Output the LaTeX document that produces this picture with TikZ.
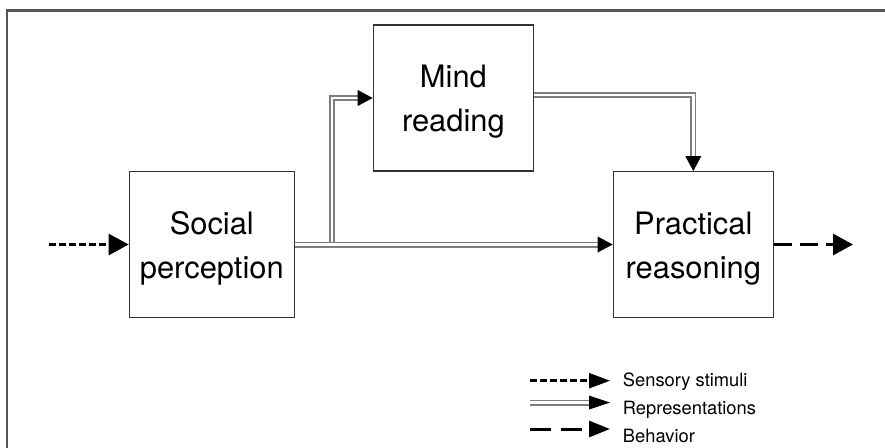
\documentclass[tikz,border=0pt]{standalone}
\usepackage{fontspec}
\setmainfont{TeX Gyre Heros}
\usetikzlibrary{arrows.meta,calc}
\definecolor{framegray}{RGB}{85,85,85}
\definecolor{repgray}{RGB}{125,125,125}
\tikzset{
  stage/.style={draw=black!80, line width=1.2bp, fill=white, inner sep=0pt},
  stagetext/.style={font=\fontsize{31}{44}\selectfont, align=center, inner sep=0pt, yshift=-4bp},
  head/.style={-{Triangle[length=20bp,width=21bp]}},
  sensory/.style={head, line width=2.5bp, dash pattern=on 7bp off 3bp},
  behavior/.style={head, line width=3bp, dash pattern=on 18bp off 8bp},
  rephead/.style={-{Triangle[length=#1,width=16bp,color=black,line width=0bp]}},
  rep/.style={rephead=15bp, draw=repgray,
    line width=1.6bp, double=white, double distance=2.8bp},
  keytext/.style={font=\fontsize{18.4}{20}\selectfont, anchor=base west, inner sep=0pt},
}
\begin{document}
\begin{tikzpicture}
\useasboundingbox (0,0) rectangle (885bp,-448bp);

% outer frame (top and left edges)
\draw[framegray, line width=2.5bp] (7.2bp,-448bp) -- (7.2bp,-10.3bp) -- (885bp,-10.3bp);

% processing stages
\node[stage, minimum width=165bp, minimum height=145.6bp] (sp) at (211.8bp,-244.5bp) {};
\node[stage, minimum width=160.2bp, minimum height=146bp] (mr) at (453.4bp,-98bp) {};
\node[stage, minimum width=160bp, minimum height=145.6bp] (pr) at (693.3bp,-244.5bp) {};
\node[stagetext] (sp-t) at (sp.center) {Social\\perception};
\node[stagetext] (mr-t) at (mr.center) {Mind\\reading};
\node[stagetext] (pr-t) at (pr.center) {Practical\\reasoning};

% input and output
\coordinate (in) at (49bp,-244.5bp);
\coordinate (out) at (853bp,-244.5bp);
\draw[sensory] (in) -- (sp.west);
\draw[behavior] (pr.east) -- (out);

% representations
\coordinate (br) at (332bp,-244.5bp);
\draw[rep] (br) |- (mr.west);
\draw[rep] (sp.east) -- (pr.west);
\draw[rep] ([yshift=3bp]mr.east) -| (pr.north);

% key
\coordinate (k1a) at (530bp,-380.7bp);
\coordinate (k1b) at (610bp,-380.7bp);
\coordinate (k2a) at (530bp,-402.5bp);
\coordinate (k2b) at (610bp,-402.5bp);
\coordinate (k3a) at (530bp,-429bp);
\coordinate (k3b) at (610bp,-429bp);
\draw[sensory, -{Triangle[length=21bp,width=15bp]}] (k1a) -- (k1b);
\draw[rep, -{Triangle[length=21bp,width=14bp,color=black,line width=0bp]}] (k2a) -- (k2b);
\draw[behavior, dash pattern=on 21bp off 10bp, -{Triangle[length=21bp,width=16bp]}] (k3a) -- (k3b);
\node[keytext] (k1t) at (622.7bp,-386.7bp) {Sensory stimuli};
\node[keytext] (k2t) at (622.7bp,-414bp) {Representations};
\node[keytext] (k3t) at (622.7bp,-442bp) {Behavior};
\end{tikzpicture}
\end{document}
